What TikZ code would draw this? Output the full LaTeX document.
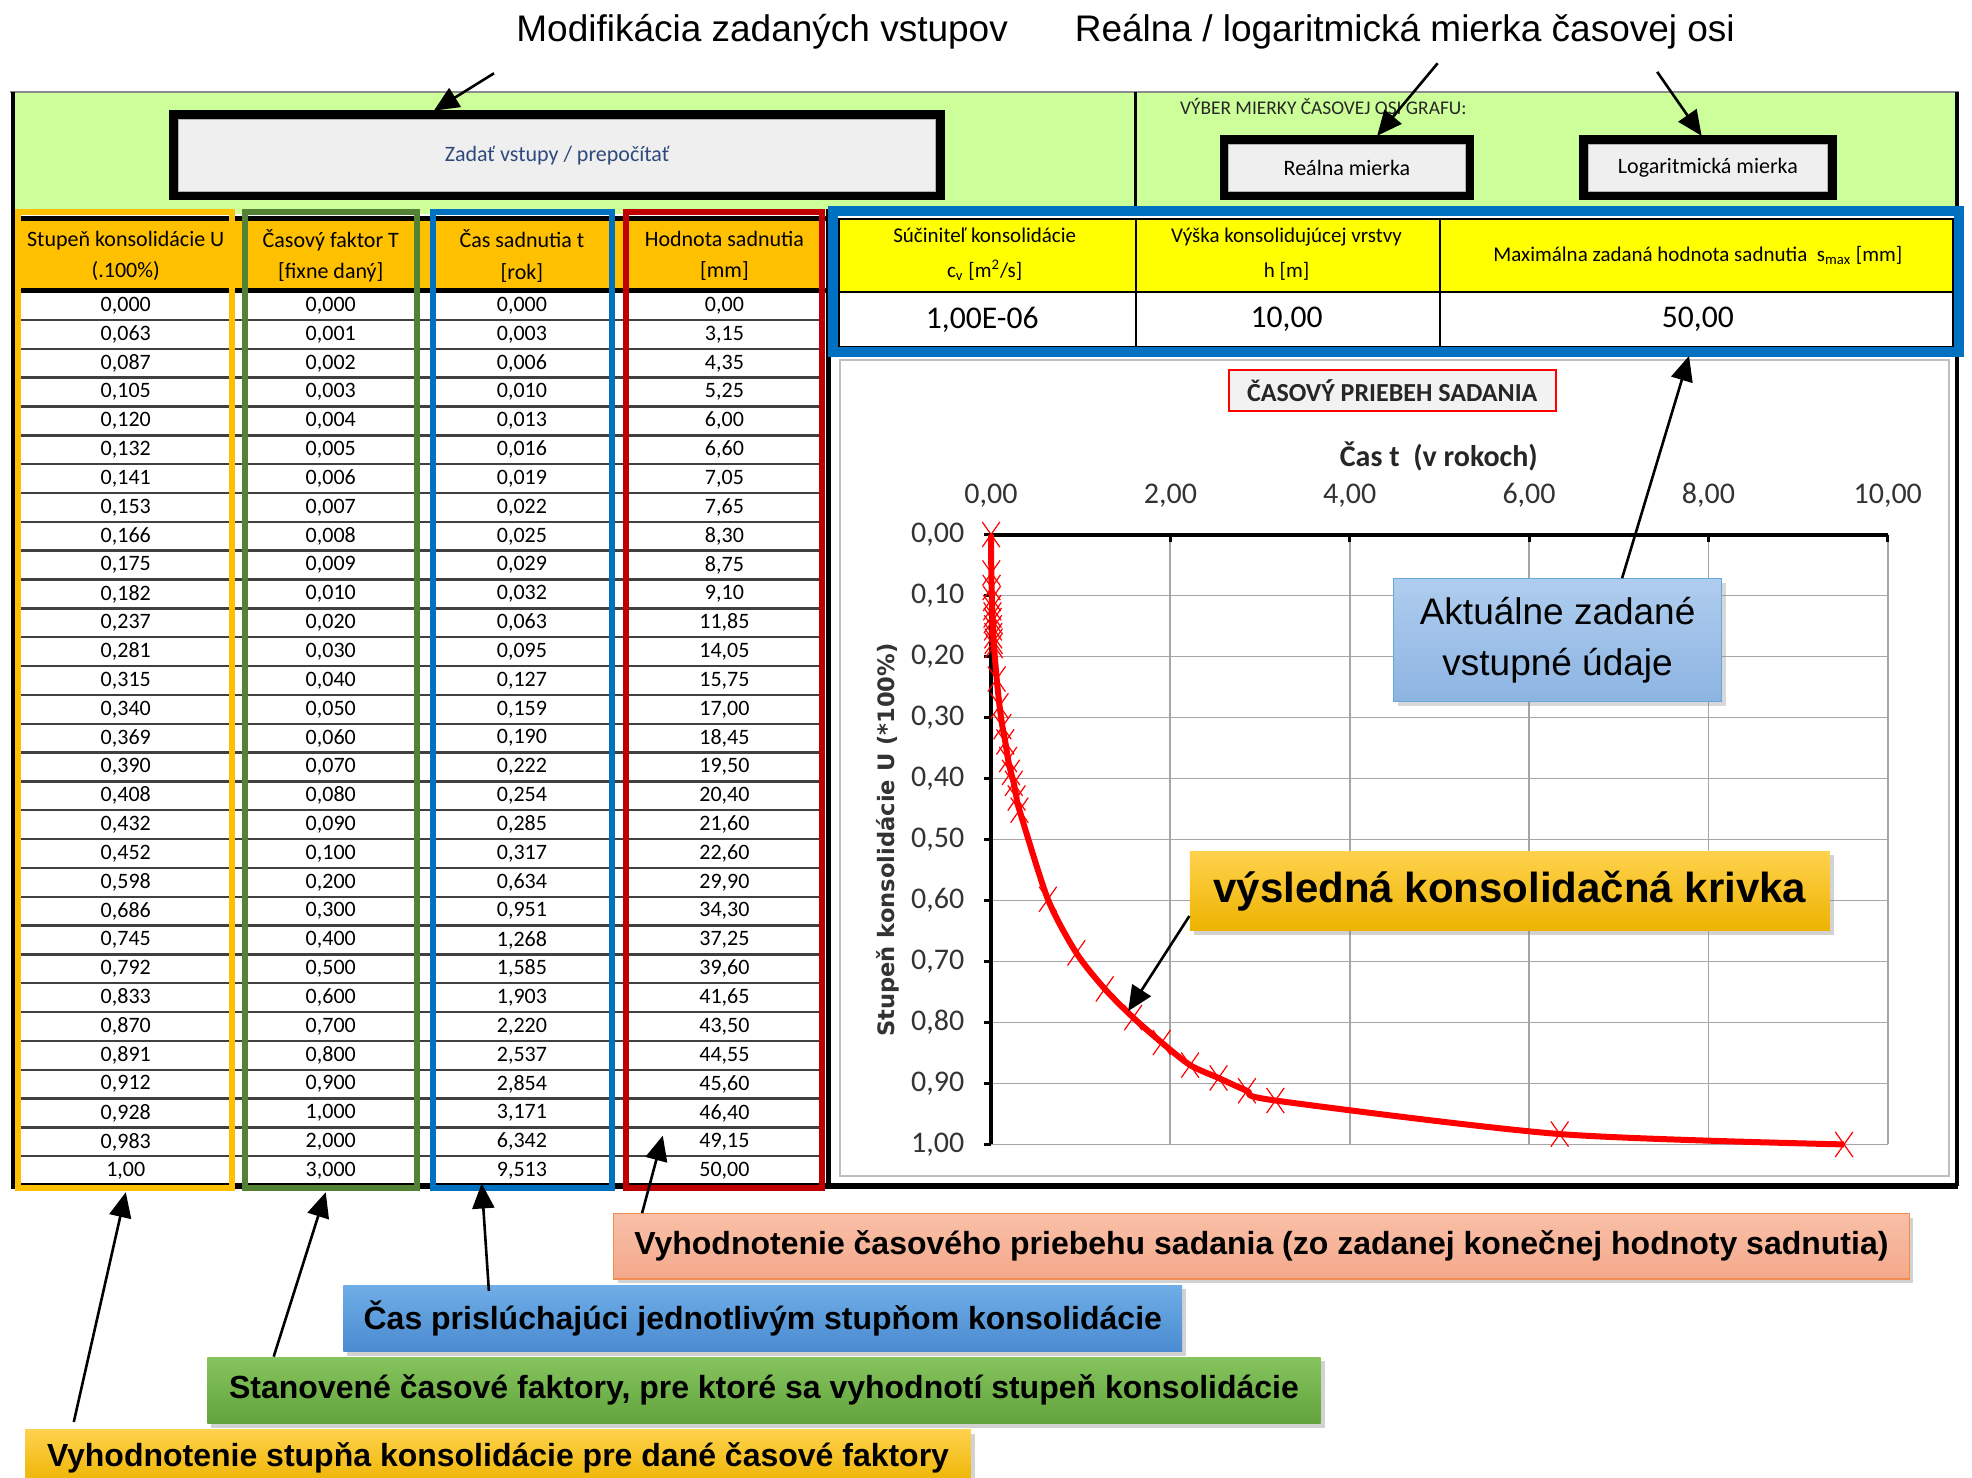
\documentclass[tikz,border=0pt]{standalone}
\usepackage{fontspec}
\setmainfont{Carlito}
\newfontfamily\arialf{Liberation Sans}
\newfontfamily\verdf{DejaVu Sans}
\usetikzlibrary{arrows.meta,shadows}

\definecolor{panelgreen}{HTML}{CCFF99}
\definecolor{hdrorange}{HTML}{FFC000}
\definecolor{hdryellow}{HTML}{FFFF00}
\definecolor{frmyellow}{HTML}{FFC000}
\definecolor{frmgreen}{HTML}{548235}
\definecolor{frmblue}{HTML}{0070C0}
\definecolor{frmred}{HTML}{C00000}
\definecolor{btnfill}{HTML}{EFEFEF}
\definecolor{btntext}{HTML}{2E4A7D}
\definecolor{gridgray}{HTML}{A6A6A6}
\definecolor{rowgray}{HTML}{404040}
\definecolor{salmtop}{HTML}{F8C0A8}
\definecolor{salmbot}{HTML}{F4A88A}
\definecolor{salmedge}{HTML}{F08C50}
\definecolor{bluetop}{HTML}{6FAEE6}
\definecolor{bluebot}{HTML}{4A8AD0}
\definecolor{greentop}{HTML}{86C45E}
\definecolor{greenbot}{HTML}{62A33C}
\definecolor{goldtop}{HTML}{FFD24D}
\definecolor{goldbot}{HTML}{EDB300}
\definecolor{akttop}{HTML}{AFCDEE}
\definecolor{aktbot}{HTML}{8DB4E2}

\begin{document}
\begin{tikzpicture}[x=0.6289pt, y=-0.6289pt,
        cell/.style = {font=\fontsize{11}{13}\selectfont, inner sep=0pt},
        hdr/.style = {font=\fontsize{11}{15.7}\selectfont, align=center, inner sep=0pt},
        yhdr/.style = {font=\fontsize{10.5}{17.6}\selectfont, align=center, inner sep=0pt},
        val/.style = {font=\fontsize{15.8}{18}\selectfont, inner sep=0pt},
        btn/.style = {draw=black!30, fill=btnfill, inner sep=0pt, font=\fontsize{11}{13}\selectfont},
        frm/.style = {draw=black, line width=4.4pt},
        colfrm/.style = {line width=3.1pt},
        rowln/.style = {draw=rowgray, line width=1.2pt},
        note/.style = {font=\arialf\fontsize{18.5}{22}\selectfont, inner sep=0pt},
        callout/.style = {font=\arialf\bfseries\fontsize{16}{18}\selectfont, inner sep=0pt,
            drop shadow={opacity=0.35, shadow xshift=2pt, shadow yshift=-2pt}},
        arr/.style = {draw, line width=1.3pt, -{Triangle[length=12.5pt, width=11pt]}},
        gridln/.style = {draw=gridgray, line width=0.9pt},
        axisln/.style = {draw=black, line width=2pt},
        ticklbl/.style = {font=\fontsize{15}{18}\selectfont, text=black!80, inner sep=0pt},
    ]
    \useasboundingbox (0,0) rectangle (1568,1175);
    \fill[white] (0,0) rectangle (1568,1175);

    % top panel
    \fill[panelgreen] (10,73) rectangle (1556,170);
    \draw[black!45, line width=1pt] (8,73) -- (1558,73);
    \draw[black, line width=1.2pt] (903,73) -- (903,166);

    \node (zadbtn) [btn, text=btntext, minimum width=378.6pt, minimum height=35.8pt] at (443,123.5) {Zadať vstupy / prepočítať};
    \draw[frm] ([xshift=-2.2pt,yshift=2.2pt]zadbtn.north west) rectangle ([xshift=2.2pt,yshift=-2.2pt]zadbtn.south east);

    \node (vyber) [anchor=west, inner sep=0pt, text=black!85, font=\fontsize{9.7}{12}\selectfont] at (938,85) {VÝBER MIERKY ČASOVEJ OSI GRAFU:};
    \node (realbtn) [btn, minimum width=118.2pt, minimum height=23.3pt] at (1071,133.5) {Reálna mierka};
    \draw[frm] ([xshift=-2.2pt,yshift=2.2pt]realbtn.north west) rectangle ([xshift=2.2pt,yshift=-2.2pt]realbtn.south east);
    \node (logbtn) [btn, minimum width=119.5pt, minimum height=23.3pt] at (1358,133.5) {Logaritmická mierka};
    \draw[frm] ([xshift=-2.2pt,yshift=2.2pt]logbtn.north west) rectangle ([xshift=2.2pt,yshift=-2.2pt]logbtn.south east);

    % left table
    \fill[hdrorange] (14,174) rectangle (655,231);
    \node (h1) [hdr] at (100,203.5) {Stupeň konsolidácie U\\(.100\%)};
    \node (h2) [hdr] at (263,203.5) {Časový faktor T\\{}[fixne daný]};
    \node (h3) [hdr] at (415,203.5) {Čas sadnutia t\\{}[rok]};
    \node (h4) [hdr] at (576,203.5) {Hodnota sadnutia\\{}[mm]};

    \foreach \k in {1,...,30}
        \draw[rowln] (14,231.5+\k*22.93) -- (655,231.5+\k*22.93);
    \draw[black, line width=2.5pt] (12,174) -- (657,174);
    \draw[black, line width=2.5pt] (12,231) -- (657,231);

    \foreach \u/\tf/\ts/\hs [count=\i from 0] in {
        {0,000}/{0,000}/{0,000}/{0,00}, {0,063}/{0,001}/{0,003}/{3,15}, {0,087}/{0,002}/{0,006}/{4,35},
        {0,105}/{0,003}/{0,010}/{5,25}, {0,120}/{0,004}/{0,013}/{6,00}, {0,132}/{0,005}/{0,016}/{6,60},
        {0,141}/{0,006}/{0,019}/{7,05}, {0,153}/{0,007}/{0,022}/{7,65}, {0,166}/{0,008}/{0,025}/{8,30},
        {0,175}/{0,009}/{0,029}/{8,75}, {0,182}/{0,010}/{0,032}/{9,10}, {0,237}/{0,020}/{0,063}/{11,85},
        {0,281}/{0,030}/{0,095}/{14,05}, {0,315}/{0,040}/{0,127}/{15,75}, {0,340}/{0,050}/{0,159}/{17,00},
        {0,369}/{0,060}/{0,190}/{18,45}, {0,390}/{0,070}/{0,222}/{19,50}, {0,408}/{0,080}/{0,254}/{20,40},
        {0,432}/{0,090}/{0,285}/{21,60}, {0,452}/{0,100}/{0,317}/{22,60}, {0,598}/{0,200}/{0,634}/{29,90},
        {0,686}/{0,300}/{0,951}/{34,30}, {0,745}/{0,400}/{1,268}/{37,25}, {0,792}/{0,500}/{1,585}/{39,60},
        {0,833}/{0,600}/{1,903}/{41,65}, {0,870}/{0,700}/{2,220}/{43,50}, {0,891}/{0,800}/{2,537}/{44,55},
        {0,912}/{0,900}/{2,854}/{45,60}, {0,928}/{1,000}/{3,171}/{46,40}, {0,983}/{2,000}/{6,342}/{49,15},
        {1,00}/{3,000}/{9,513}/{50,00}} {
        \node (u\i) [cell] at (100,243+\i*22.93) {\u};
        \node (tf\i) [cell] at (263,243+\i*22.93) {\tf};
        \node (ts\i) [cell] at (415,243+\i*22.93) {\ts};
        \node (hs\i) [cell] at (576,243+\i*22.93) {\hs};
    }

    % outer frame
    \draw[black, line width=2pt] (10,73) -- (10,943);
    \draw[black, line width=2pt] (1556,73) -- (1556,943);
    \draw[black, line width=2.6pt] (659,166) -- (659,943);
    \draw[black, line width=2.8pt] (9,943) -- (1557,943);

    \draw[colfrm, draw=frmyellow] (14.5,168.5) rectangle (184.5,944.5);
    \draw[colfrm, draw=frmgreen] (194.5,168.5) rectangle (331.5,944.5);
    \draw[colfrm, draw=frmblue] (344.5,168.5) rectangle (486.5,944.5);
    \draw[colfrm, draw=frmred] (497.5,168.5) rectangle (653.5,944.5);

    % input table
    \fill[hdryellow] (667,174) rectangle (1553,232);
    \fill[white] (667,232) rectangle (1553,276);
    \draw[black, line width=1.2pt] (667,174) rectangle (1553,276);
    \draw[black, line width=1.2pt] (667,232) -- (1553,232);
    \draw[black, line width=1pt] (903,174) -- (903,276);
    \draw[black, line width=1pt] (1145,174) -- (1145,276);
    \node (cvh) [yhdr] at (783,202) {Súčiniteľ konsolidácie\\c\textsubscript{v} [m\textsuperscript{2}/s]};
    \node (hh) [yhdr] at (1023,202) {Výška konsolidujúcej vrstvy\\h [m]};
    \node (smaxh) [yhdr] at (1350,203) {Maximálna zadaná hodnota sadnutia\ \ s\textsubscript{max} [mm]};
    \node (cvv) [val] at (781,254) {1,00E-06};
    \node (hv) [val] at (1023,254) {10,00};
    \node (smaxv) [val] at (1350,254) {50,00};
    \draw[frmblue, line width=5pt] (662,168) rectangle (1558,280);

    % chart
    \draw[black!25, line width=1pt] (668,286) rectangle (1550,935);
    \node (title) [draw=red, line width=1.2pt, fill=black!5, minimum width=163.5pt, minimum height=20.8pt, inner sep=0pt,
        font=\bfseries\fontsize{13}{15}\selectfont, text=black!85] at (1107,310.5) {ČASOVÝ PRIEBEH SADANIA};
    \node (xtitle) [inner sep=0pt, font=\bfseries\fontsize{15}{18}\selectfont, text=black!85] at (1144,363) {Čas t\ \ (v rokoch)};
    \node (ytitle) [rotate=90, inner sep=0pt, font=\verdf\bfseries\fontsize{11.3}{13}\selectfont, text=black!80] at (706,668) {Stupeň konsolidácie U (*100\%)};

    \begin{scope}[shift={(788,425)}, x=44.84pt, y=-305pt]
        \foreach \gx in {2,4,6,8,10}
            \draw[gridln] (\gx,0) -- (\gx,1);
        \foreach \gy in {0.1,0.2,0.3,0.4,0.5,0.6,0.7,0.8,0.9,1.0}
            \draw[gridln] (0,\gy) -- (10,\gy);
        \draw[axisln] (0,0) -- (10,0);
        \draw[axisln] (0,0) -- (0,1);
        \foreach \gx/\lb in {0/{0,00},2/{2,00},4/{4,00},6/{6,00},8/{8,00},10/{10,00}} {
            \draw[axisln, line width=1.5pt] (\gx,0) -- ++(0pt,-3.5pt);
            \node (xl\gx) [ticklbl] at (\gx,0) [yshift=19.5pt] {\lb};
        }
        \foreach \gy/\lb [count=\j] in {0/{0,00},0.1/{0,10},0.2/{0,20},0.3/{0,30},0.4/{0,40},0.5/{0,50},
                0.6/{0,60},0.7/{0,70},0.8/{0,80},0.9/{0,90},1.0/{1,00}} {
            \draw[axisln, line width=1.5pt] (0,\gy) -- ++(-3.5pt,0pt);
            \node (yl\j) [ticklbl, anchor=east] at (0,\gy) [xshift=-13.2pt] {\lb};
        }
        \draw[red, line width=3pt, line join=round] plot[smooth, tension=0.45] coordinates {
            (0,0) (0.003,0.063) (0.006,0.087) (0.010,0.105) (0.013,0.120) (0.016,0.132) (0.019,0.141)
            (0.022,0.153) (0.025,0.166) (0.029,0.175) (0.032,0.182) (0.063,0.237) (0.095,0.281)
            (0.127,0.315) (0.159,0.340) (0.190,0.369) (0.222,0.390) (0.254,0.408) (0.285,0.432)
            (0.317,0.452) (0.634,0.598) (0.951,0.686) (1.268,0.745) (1.585,0.792) (1.903,0.833)
            (2.220,0.870) (2.537,0.891) (2.854,0.912) (3.171,0.928) (6.342,0.983) (9.513,1.000)};
        \draw[red] plot[only marks, mark=x, mark size=8.9pt, mark options={xscale=0.7, line width=0.6pt}] coordinates {
            (0,0) (0.003,0.063) (0.006,0.087) (0.010,0.105) (0.013,0.120) (0.016,0.132) (0.019,0.141)
            (0.022,0.153) (0.025,0.166) (0.029,0.175) (0.032,0.182) (0.063,0.237) (0.095,0.281)
            (0.127,0.315) (0.159,0.340) (0.190,0.369) (0.222,0.390) (0.254,0.408) (0.285,0.432)
            (0.317,0.452) (0.634,0.598) (0.951,0.686) (1.268,0.745) (1.585,0.792) (1.903,0.833)
            (2.220,0.870) (2.537,0.891) (2.854,0.912) (3.171,0.928) (6.342,0.983) (9.513,1.000)};
    \end{scope}

    % notes
    \node (modnote) [note] at (606,25) {Modifikácia zadaných vstupov};
    \node (scalenote) [note] at (1117,25) {Reálna / logaritmická mierka časovej osi};
    \node (aktnote) [draw=frmblue!60, top color=akttop, bottom color=aktbot, minimum width=164.1pt, minimum height=61.6pt,
        inner sep=0pt, align=center, font=\arialf\fontsize{18.5}{25.8}\selectfont,
        drop shadow={opacity=0.3, shadow xshift=2pt, shadow yshift=-2pt}] at (1238.5,509) {Aktuálne zadané\\vstupné údaje};
    \node (krivnote) [callout, top color=goldtop, bottom color=goldbot, minimum width=320.1pt, minimum height=39.6pt,
        font=\arialf\bfseries\fontsize{21}{24}\selectfont] at (1200.5,708.5) {výsledná konsolidačná krivka};
    \node (salnote) [callout, draw=salmedge, line width=0.6pt, top color=salmtop, bottom color=salmbot,
        minimum width=647.8pt, minimum height=32.7pt] at (1003,991) {Vyhodnotenie časového priebehu sadania (zo zadanej konečnej hodnoty sadnutia)};
    \node (casnote) [callout, top color=bluetop, bottom color=bluebot, minimum width=419.5pt, minimum height=33.3pt]
        at (606.5,1048.5) {Čas prislúchajúci jednotlivým stupňom konsolidácie};
    \node (stannote) [callout, top color=greentop, bottom color=greenbot, minimum width=556.6pt, minimum height=33.3pt]
        at (607.5,1105.5) {Stanovené časové faktory, pre ktoré sa vyhodnotí stupeň konsolidácie};
    \node (stupnote) [callout, top color=goldtop, bottom color=goldbot, minimum width=472.9pt, minimum height=27.7pt]
        at (396,1159) {Vyhodnotenie stupňa konsolidácie pre dané časové faktory};

    % arrow tips
    \coordinate (modtip) at (345,88);
    \coordinate (realtip) at (1095,108);
    \coordinate (logtip) at (1353,108);
    \coordinate (akttip) at (1343,283);
    \coordinate (krivtip) at (897,804);
    \coordinate (saltip) at (527,903);
    \coordinate (castip) at (383,941);
    \coordinate (stantip) at (259,948);
    \coordinate (stuptip) at (100,948);

    \path[arr] ([xshift=-11pt,yshift=-12pt]modnote.south west) -- (modtip);
    \path[arr] ([xshift=16.4pt,yshift=-7pt]scalenote.south) -- (realtip);
    \path[arr] ([xshift=-39pt,yshift=-11.3pt]scalenote.south east) -- (logtip);
    \path[arr] ([xshift=114.5pt]aktnote.north west) -- (akttip);
    \path[arr] ([yshift=7.5pt]krivnote.south west) -- (krivtip);
    \path[arr] ([xshift=14.5pt]salnote.north west) -- (saltip);
    \path[arr] ([xshift=73pt,yshift=-3pt]casnote.north west) -- (castip);
    \path[arr] ([xshift=33.3pt]stannote.north west) -- (stantip);
    \path[arr] ([xshift=24.5pt,yshift=3.8pt]stupnote.north west) -- (stuptip);
\end{tikzpicture}
\end{document}
